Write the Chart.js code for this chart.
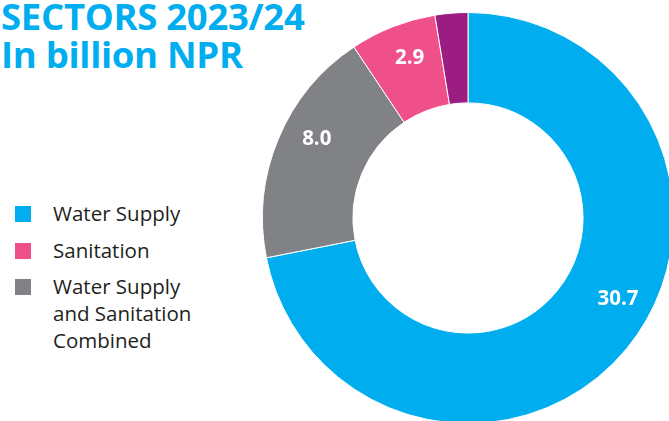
<!DOCTYPE html>
<html lang="en">

<head>
    <meta charset="UTF-8">
    <title>Sectors 2023/24</title>
    <script src="https://cdn.jsdelivr.net/npm/chart.js"></script>
    <style>
        body {
            margin: 0;
            width: 669px;
            height: 421px;
            overflow: hidden;
            background: #fff;
            position: relative;
            font-family: "Open Sans", "Noto Sans", sans-serif;
        }

        .title {
            position: absolute;
            left: 1px;
            top: -3px;
            color: #00aeef;
            font-weight: 700;
            font-size: 36.5px;
            line-height: 38px;
            letter-spacing: -0.3px;
        }

        .legend {
            position: absolute;
            left: 15px;
            top: 200px;
        }

        .legend-item {
            display: flex;
            align-items: flex-start;
            margin-bottom: 9.5px;
        }

        .legend-box {
            width: 16px;
            height: 16px;
            margin-top: 6px;
            flex: none;
        }

        .legend-text {
            margin-left: 22px;
            width: 150px;
            font-size: 20.5px;
            line-height: 27px;
            color: #231f20;
        }

        #chart-wrap {
            position: absolute;
            left: 262px;
            top: 12px;
            width: 412px;
            height: 412px;
        }
    </style>
</head>

<body>
    <div class="title">SECTORS 2023/24<br>In billion NPR</div>
    <div class="legend" id="legend"></div>

    <div id="chart-wrap">
        <canvas id="sectors-chart" width="412" height="412"></canvas>
    </div>

    <script>
        // data (purple slice has no label or legend entry)
        const categories = ['Water Supply', 'Water Supply and Sanitation Combined', 'Sanitation', ''];
        const values = [30.7, 8.0, 2.9, 1.1];
        const valueLabels = ['30.7', '8.0', '2.9', ''];
        const colors = ['#00aeef', '#808285', '#ef5089', '#9c1d82'];
        const legendOrder = [0, 2, 1];

        // label placement tweaks (degrees along the ring)
        const labelShift = [-11, 5, 1.5, 0];

        // html legend
        const legendEl = document.getElementById('legend');
        legendOrder.forEach(i => {
            const item = document.createElement('div');
            item.className = 'legend-item';
            item.innerHTML = '<div class="legend-box" style="background:' + colors[i] + '"></div>' +
                '<div class="legend-text">' + categories[i] + '</div>';
            legendEl.appendChild(item);
        });

        // draws the numbers on the slices
        const valueLabelPlugin = {
            id: 'valueLabels',
            afterDatasetsDraw(chart) {
                const ctx = chart.ctx;
                const meta = chart.getDatasetMeta(0);
                ctx.save();
                ctx.fillStyle = '#fff';
                ctx.font = 'bold 20.5px "Open Sans", "Noto Sans", sans-serif';
                ctx.textAlign = 'center';
                ctx.textBaseline = 'middle';
                meta.data.forEach((arc, i) => {
                    if (!valueLabels[i]) return;
                    const p = arc.getProps(['x', 'y', 'startAngle', 'endAngle', 'outerRadius'], true);
                    const mid = (p.startAngle + p.endAngle) / 2 + labelShift[i] * Math.PI / 180;
                    const r = p.outerRadius * 0.83;
                    ctx.fillText(valueLabels[i], p.x + Math.cos(mid) * r, p.y + Math.sin(mid) * r);
                });
                ctx.restore();
            }
        };

        const ctx = document.getElementById('sectors-chart').getContext('2d');
        new Chart(ctx, {
            type: 'doughnut',
            data: {
                labels: categories,
                datasets: [{
                    data: values,
                    backgroundColor: colors,
                    borderColor: '#fff',
                    borderWidth: 1,
                    hoverOffset: 0
                }]
            },
            options: {
                responsive: false,
                animation: false,
                cutout: '56%',
                layout: { padding: 0 },
                plugins: {
                    legend: { display: false },
                    tooltip: { enabled: false }
                }
            },
            plugins: [valueLabelPlugin]
        });
    </script>
</body>

</html>
